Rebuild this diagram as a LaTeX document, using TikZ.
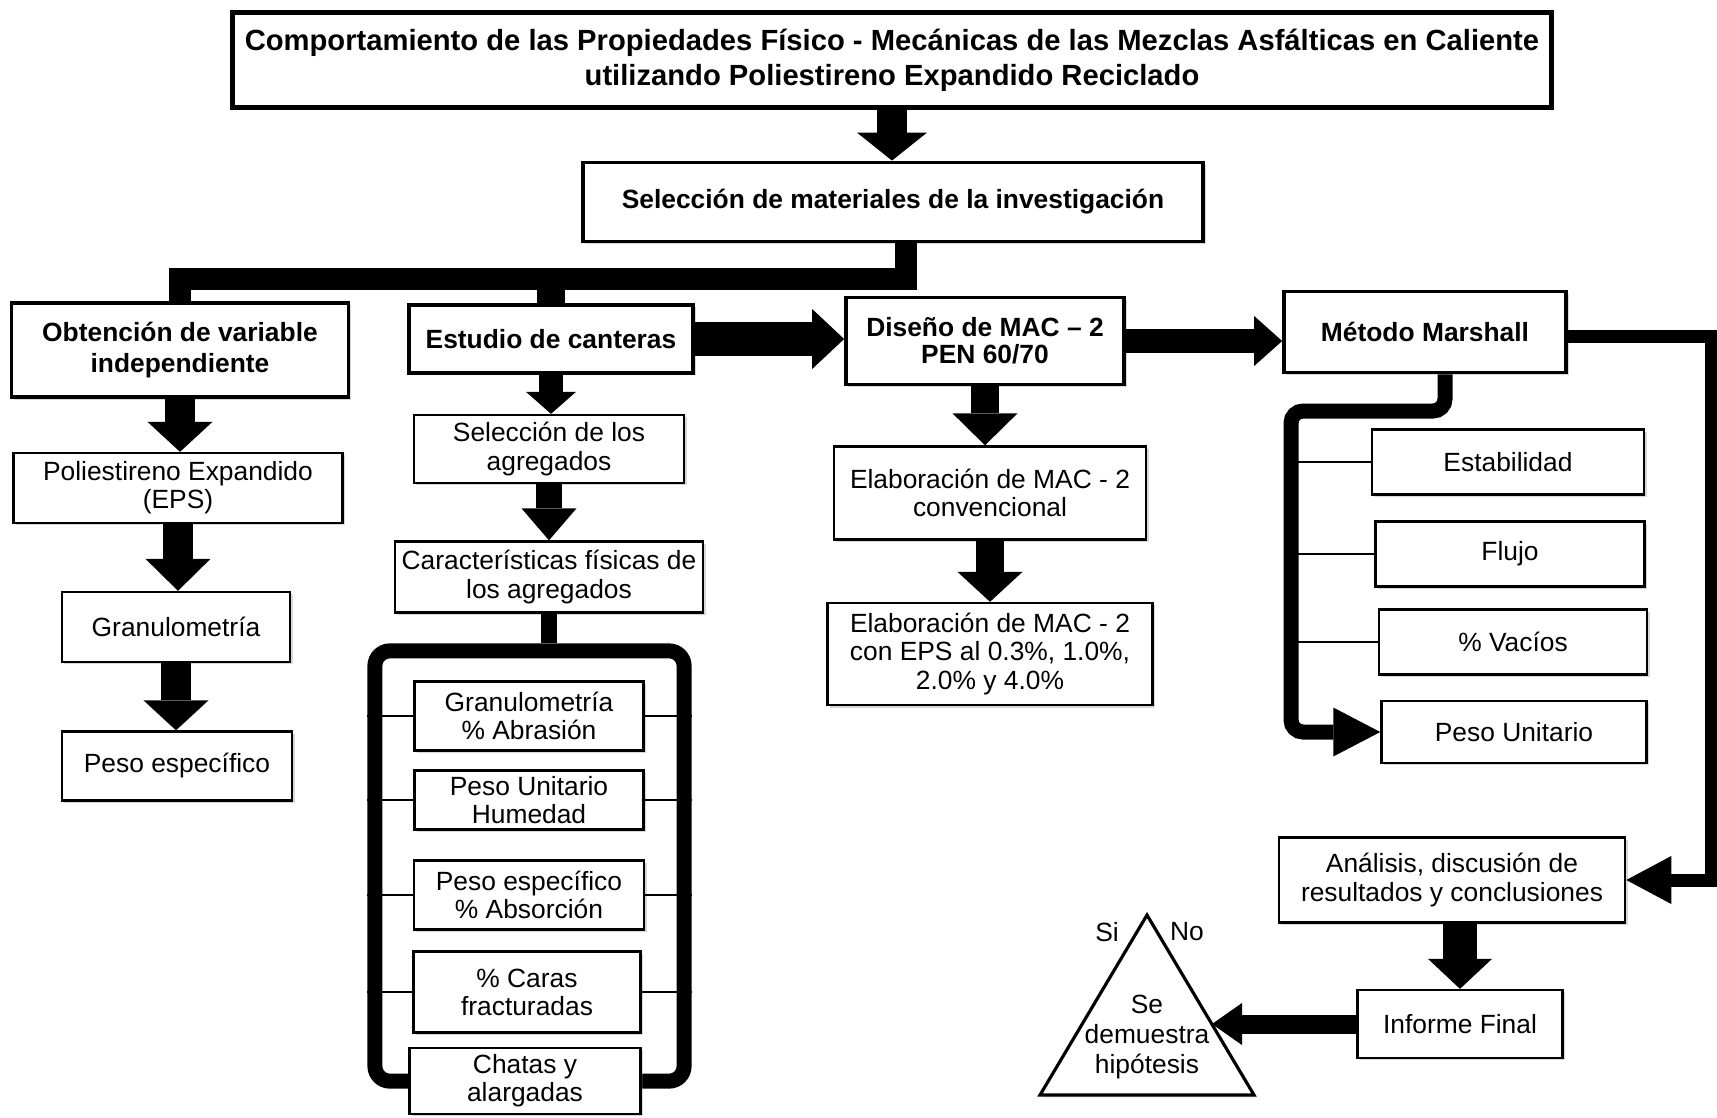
\documentclass[tikz,border=0pt]{standalone}
\usepackage{fontspec}
\setmainfont{Liberation Sans}
\usetikzlibrary{arrows.meta,shadows}
\begin{document}
\begin{tikzpicture}[x=0.01cm,y=-0.01cm,
  box/.style={draw, line width=0.65pt, fill=white, align=center, inner sep=1pt,
     font=\fontsize{7.5}{8}\selectfont,
     drop shadow={shadow xshift=0.7pt,shadow yshift=-0.7pt,opacity=0.3}},
  bbox/.style={box, line width=1pt, font=\fontsize{7.5}{9}\bfseries\selectfont},
  sz/.style 2 args={minimum width=#1cm, minimum height=#2cm},
  barrow/.style n args={3}{line width=#1cm, -{Triangle[width=#2cm,length=#3cm,line width=0pt]}},
  fine/.style={line width=0.6pt},
  heavy/.style={line width=#1cm, line join=miter}
]
\useasboundingbox[fill=white] (0,0) rectangle (1717,1117);

% ---- nodes ----
\node[bbox, line width=1.4pt, sz={13.19}{0.95}, font=\fontsize{8.3}{10}\bfseries\selectfont] (title) at (892,60)
  {Comportamiento de las Propiedades Físico - Mecánicas de las Mezclas Asfálticas en Caliente\\utilizando Poliestireno Expandido Reciclado};
\node[bbox, line width=1.1pt, sz={6.20}{0.79}] (sel) at (893,202) {Selección de materiales de la investigación};

\node[bbox, sz={3.37}{0.94}] (obt) at (180,350) {Obtención de variable\\independiente};
\node[bbox, sz={2.84}{0.68}] (est) at (551,339) {Estudio de canteras};
\node[bbox, sz={2.78}{0.87}, font=\fontsize{7.5}{7.7}\bfseries\selectfont] (dis) at (985,341) {Diseño de MAC – 2\\PEN 60/70};
\node[bbox, sz={2.82}{0.81}] (mar) at (1425,332) {Método Marshall};

\node[box, sz={3.29}{0.70}] (poli) at (178,488) {Poliestireno Expandido\\(EPS)};
\node[box, sz={2.28}{0.70}] (gran) at (176,627) {Granulometría};
\node[box, sz={2.30}{0.69}] (pesoe) at (177,766) {Peso específico};

\node[box, sz={2.70}{0.68}] (selag) at (549,449) {Selección de los\\agregados};
\node[box, sz={3.08}{0.71}] (car) at (549,577) {Características físicas de\\los agregados};

\node[draw, line width=0.15cm, rounded corners=0.15cm, minimum width=3.09cm, minimum height=4.30cm] (brk) at (529.5,866) {};
\node[box, sz={2.29}{0.69}] (g1) at (529,716) {Granulometría\\\% Abrasión};
\node[box, sz={2.29}{0.59}] (g2) at (529,800) {Peso Unitario\\Humedad};
\node[box, sz={2.30}{0.69}] (g3) at (529,895) {Peso específico\\\% Absorción};
\node[box, sz={2.27}{0.81}] (g4) at (527,992) {\% Caras\\fracturadas};
\node[box, sz={2.31}{0.66}] (g5) at (525,1081) {Chatas y\\alargadas};

\node[box, sz={3.12}{0.93}] (elab1) at (990,493) {Elaboración de MAC - 2\\convencional};
\node[box, sz={3.25}{1.02}] (elab2) at (990,654) {Elaboración de MAC - 2\\con EPS al 0.3\%, 1.0\%,\\2.0\% y 4.0\%};

\node[box, sz={2.72}{0.65}] (stab) at (1508,462) {Estabilidad};
\node[box, sz={2.69}{0.65}] (flujo) at (1510,554) {Flujo};
\node[box, sz={2.68}{0.65}] (vac) at (1513,642) {\% Vacíos};
\node[box, sz={2.65}{0.62}] (pu) at (1514,732) {Peso Unitario};

\node[box, sz={3.46}{0.85}] (ana) at (1452,880) {Análisis, discusión de\\resultados y conclusiones};
\node[box, sz={2.05}{0.68}] (inf) at (1460,1024) {Informe Final};

% triangle
\coordinate (apex) at (1147,915);
\coordinate (bl) at (1040,1095);
\coordinate (br) at (1254,1095);
\draw[line width=0.9pt, fill=white, drop shadow={shadow xshift=0.7pt,shadow yshift=-0.7pt,opacity=0.3}] (apex) -- (br) -- (bl) -- cycle;
\node[align=center, inner sep=0pt, font=\fontsize{7.5}{8.5}\selectfont] (hyp) at (1147,1037) {Se\\demuestra\\hipótesis};
\node[inner sep=0pt, font=\fontsize{7.5}{8}\selectfont] (si) at (1107,932) {Si};
\node[inner sep=0pt, font=\fontsize{7.5}{8}\selectfont] (no) at (1187,932) {No};
\coordinate (tri) at (1212,1024);

% ---- connectors ----
\draw[barrow={0.30}{0.70}{0.28}] (title.south) -- (title.south |- sel.north);

\draw[heavy=0.22] ([xshift=0.13cm]sel.south) -- ++(0,36) -| (obt.north);
\draw[heavy=0.28] (est.north) -- ++(0,-30);

\draw[barrow={0.30}{0.65}{0.30}] (obt.south) -- (obt.south |- poli.north);
\draw[barrow={0.30}{0.65}{0.32}] (poli.south) -- (poli.south |- gran.north);
\draw[barrow={0.30}{0.65}{0.30}] (gran.south) -- (gran.south |- pesoe.north);

\draw[barrow={0.24}{0.50}{0.22}] (est.south) -- (est.south |- selag.north);
\draw[barrow={0.26}{0.55}{0.32}] (selag.south) -- (selag.south |- car.north);
\draw[heavy=0.16] (car.south) -- (car.south |- brk.north);

\foreach \b in {g1,g2,g3,g4}{
  \draw[fine] (\b.west) -- (\b.west -| brk.west);
  \draw[fine] (\b.east) -- (\b.east -| brk.east);
}

\draw[barrow={0.34}{0.60}{0.32}] (est.east) -- (est.east -| dis.west);
\draw[barrow={0.24}{0.50}{0.28}] (dis.east) -- (dis.east -| mar.west);
\draw[barrow={0.28}{0.65}{0.32}] (dis.south) -- (dis.south |- elab1.north);
\draw[barrow={0.28}{0.65}{0.30}] (elab1.south) -- (elab1.south |- elab2.north);

\coordinate (mbrk) at (1291,411);
\draw[line width=0.15cm, rounded corners=0.12cm, -{Triangle[width=0.49cm,length=0.47cm,line width=0pt]}]
  ([xshift=0.2cm]mar.south) |- (mbrk) |- (pu.west);
\foreach \b in {stab,flujo,vac}{
  \draw[fine] (\b.west) -- (\b.west -| mbrk);
}

\coordinate (redge) at (1711,0);
\draw[line width=0.13cm, line join=miter, -{Triangle[width=0.48cm,length=0.45cm,line width=0pt]}]
  ([yshift=-0.04cm]mar.east) -| (redge |- ana.east) -- (ana.east);

\draw[barrow={0.34}{0.64}{0.30}] (inf.north |- ana.south) -- (inf.north);
\draw[barrow={0.19}{0.42}{0.30}] (inf.west) -- (tri);
\end{tikzpicture}
\end{document}
